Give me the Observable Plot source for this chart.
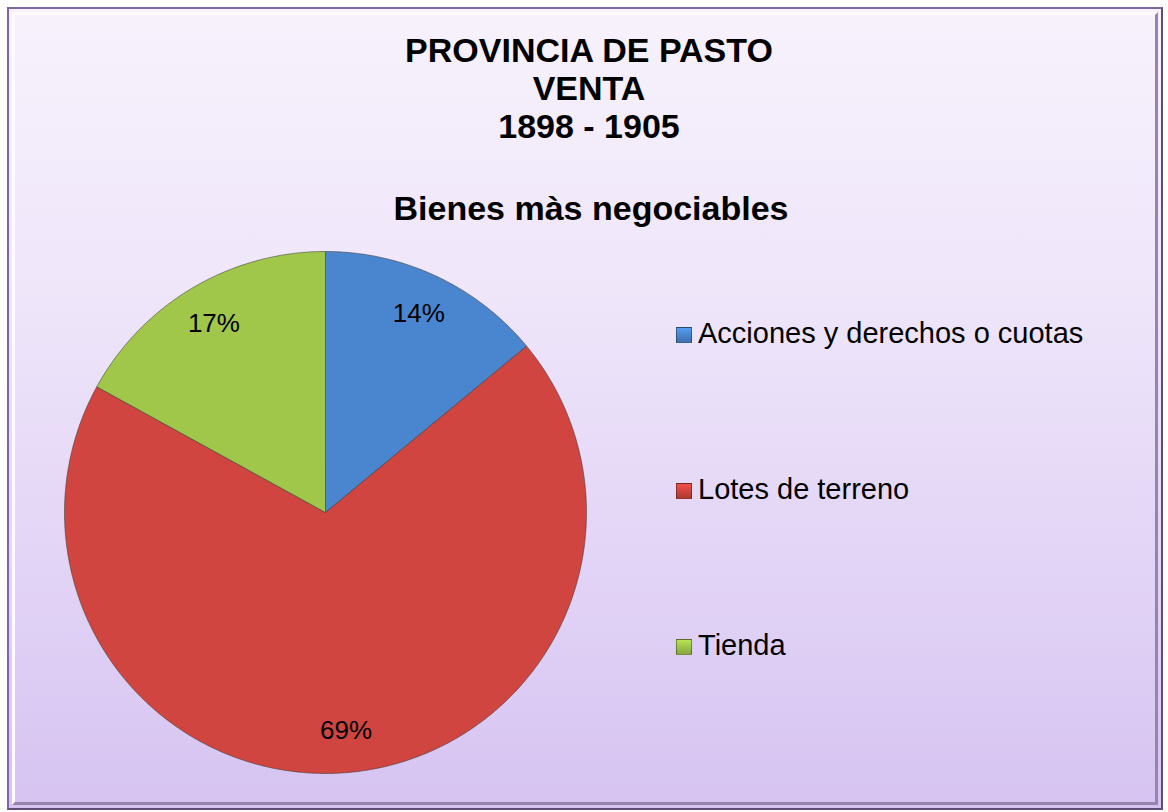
<!DOCTYPE html>
<html>
<head>
<meta charset="utf-8">
<script src="https://cdn.jsdelivr.net/npm/d3@7"></script>
<script src="https://cdn.jsdelivr.net/npm/@observablehq/plot@0.6"></script>
<style>
  body { margin: 0; background: #fff; }
  #wrap { position: relative; width: 1168px; height: 812px; background: #fff; overflow: hidden;
          font-family: Arial, "Liberation Sans", sans-serif; color: #000; }
  #frame { position: absolute; left: 7px; top: 7px; width: 1152px; height: 799px;
           border: 2px solid #7d65a8; border-right-color: #5e4d74; border-bottom-color: #5e4d74;
           background: linear-gradient(#f7f2fc 0%, #efe6fa 35%, #e2d4f6 70%, #d6c3f1 100%); }
  #bevel { position: absolute; left: 3px; top: 3px; right: 3px; bottom: 3px;
           border: 3px solid; border-color: #fdfbff #9585ad #9585ad #fdfbff; }
  #title { position: absolute; left: 5px; width: 1168px; top: 31px; text-align: center;
           font-weight: bold; font-size: 34px; line-height: 38px; }
  #subtitle { position: absolute; left: 7px; width: 1168px; top: 188px; text-align: center;
              font-weight: bold; font-size: 34px; line-height: 40px; }
  #chart { position: absolute; left: 0; top: 0; }
  .item { position: absolute; left: 698px; font-size: 29px; line-height: 29px; white-space: nowrap; }
  .mk { position: absolute; left: 676px; width: 14px; height: 14px; border: 1px solid rgba(0,0,0,0.35); }
</style>
</head>
<body>
<div id="wrap">
  <div id="frame"><div id="bevel"></div></div>
  <div id="title">PROVINCIA DE PASTO<br>VENTA<br>1898 - 1905</div>
  <div id="subtitle">Bienes màs negociables</div>
  <div id="chart"></div>
  <div id="legend"></div>
</div>
<script>
const categories = ["Acciones y derechos o cuotas", "Lotes de terreno", "Tienda"];
const values = [14, 69, 17];
const labels = ["14%", "69%", "17%"];
const colors = ["#4a86d0", "#d0453f", "#a0c64a"];

// Slice geometry in unit-circle data space (y up), clockwise from 12 o'clock
const arcs = d3.pie().sort(null).value(d => d.value)(
  categories.map((c, i) => ({cat: c, value: values[i], label: labels[i]}))
);
const polys = [];
for (const a of arcs) {
  polys.push({cat: a.data.cat, x: 0, y: 0});
  const n = Math.max(2, Math.ceil((a.endAngle - a.startAngle) / (Math.PI / 360)));
  for (let k = 0; k <= n; k++) {
    const t = a.startAngle + (a.endAngle - a.startAngle) * k / n;
    polys.push({cat: a.data.cat, x: Math.sin(t), y: Math.cos(t)});
  }
  polys.push({cat: a.data.cat, x: 0, y: 0});
}
const labelPts = arcs.map(a => {
  const m = (a.startAngle + a.endAngle) / 2;
  return {label: a.data.label, x: 0.84 * Math.sin(m), y: 0.84 * Math.cos(m)};
});

const R = 261, cx = 325, cy = 512;
const chart = Plot.plot({
  width: 1168,
  height: 812,
  margin: 0,
  style: {background: "transparent", overflow: "visible"},
  x: {domain: [-1, 1], range: [cx - R, cx + R], axis: null},
  y: {domain: [-1, 1], range: [cy + R, cy - R], axis: null},
  color: {domain: categories, range: colors},
  marks: [
    Plot.line(polys, {x: "x", y: "y", z: "cat", fill: "cat", stroke: "#3a3a3a",
                      strokeWidth: 1, strokeOpacity: 0.55, curve: "linear"}),
    Plot.text(labelPts, {x: "x", y: "y", text: "label", fontSize: 26,
                         fontFamily: "Arial, 'Liberation Sans', sans-serif", fill: "#000"})
  ]
});
document.getElementById("chart").appendChild(chart);

// Legend
const legend = document.getElementById("legend");
const baselines = [343, 499, 655];
categories.forEach((c, i) => {
  const mk = document.createElement("div");
  mk.className = "mk";
  mk.style.top = (baselines[i] - 16) + "px";
  mk.style.background = `linear-gradient(${d3.color(colors[i]).brighter(0.4)}, ${d3.color(colors[i]).darker(0.5)})`;
  legend.appendChild(mk);
  const it = document.createElement("div");
  it.className = "item";
  it.style.top = (baselines[i] - 24.5) + "px";
  it.textContent = c;
  legend.appendChild(it);
});
</script>
</body>
</html>
